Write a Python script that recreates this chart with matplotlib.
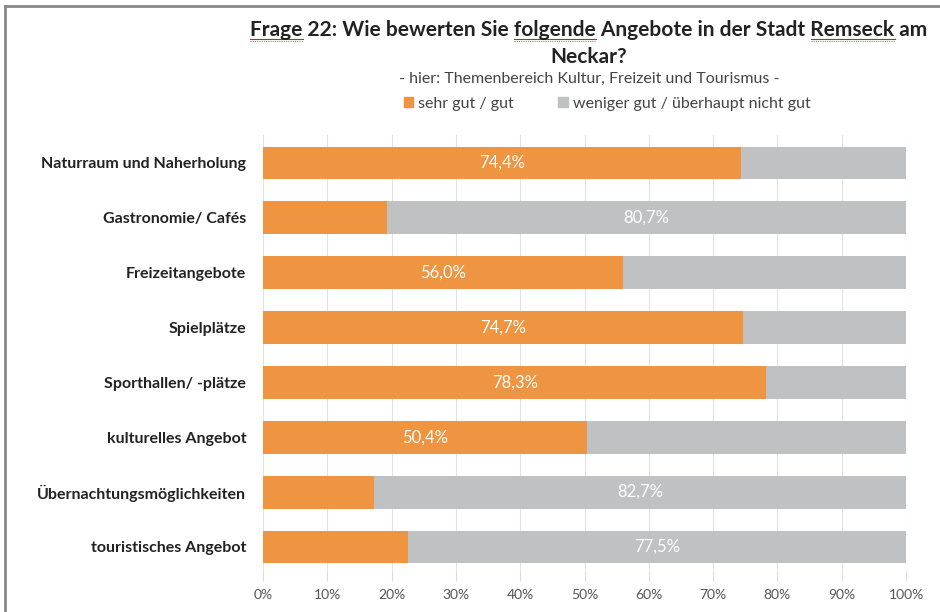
import matplotlib
matplotlib.use("Agg")
import matplotlib.pyplot as plt
from matplotlib.patches import Patch
from matplotlib.lines import Line2D

categories = ["Naturraum und Naherholung", "Gastronomie/ Cafés", "Freizeitangebote",
              "Spielplätze", "Sporthallen/ -plätze", "kulturelles Angebot",
              "Übernachtungsmöglichkeiten", "touristisches Angebot"]
good = [74.4, 19.3, 56.0, 74.7, 78.3, 50.4, 17.3, 22.5]
bad = [25.6, 80.7, 44.0, 25.3, 21.7, 49.6, 82.7, 77.5]
series_names = ["sehr gut / gut", "weniger gut / überhaupt nicht gut"]
xticks = [0, 10, 20, 30, 40, 50, 60, 70, 80, 90, 100]

ORANGE = "#EF9440"
GREY = "#BFC1C3"
FONT = ["Lato", "DejaVu Sans"]
plt.rcParams['font.family'] = FONT

fig = plt.figure(figsize=(9.4, 6.12), dpi=100)
ax = fig.add_axes([263/940, 1-570/612, (906-263)/940, (570-135)/612])

y = list(range(len(categories)))
ax.barh(y, good, height=0.6, color=ORANGE, zorder=3)
ax.barh(y, bad, left=good, height=0.6, color=GREY, zorder=3)

for i in y:
    if good[i] >= bad[i]:
        ax.text(good[i]/2, i, f"{good[i]:.1f}%".replace(".", ","), color="white",
                ha="center", va="center", fontsize=12, zorder=4)
    else:
        ax.text(good[i] + bad[i]/2, i, f"{bad[i]:.1f}%".replace(".", ","), color="white",
                ha="center", va="center", fontsize=12, zorder=4)

ax.set_xlim(0, 100)
ax.set_ylim(7.42, -0.51)
ax.set_xticks(xticks)
ax.set_xticklabels([f"{t}%" for t in xticks], color="#555555", fontsize=10)
ax.set_yticks(y)
ax.set_yticklabels(categories, fontsize=11.5, fontweight="bold", color="#222222")
ax.tick_params(axis="y", length=0, pad=12)
ax.tick_params(axis="x", length=8, color="#dddddd", pad=6)
ax.grid(axis="x", color="#e2e2e2", linewidth=0.8, zorder=0)
for s in ax.spines.values():
    s.set_visible(False)

# border lines (top and left)
fig.add_artist(Line2D([5/940, 1], [1-6/612, 1-6/612], color="#888888", lw=2))
fig.add_artist(Line2D([5/940, 5/940], [0, 1-6/612], color="#888888", lw=2))

# title
TS = 15
line1 = "Frage 22: Wie bewerten Sie folgende Angebote in der Stadt Remseck am"
cx = 589/940
t1 = fig.text(cx, 1-30/612, line1, ha="center", va="center", fontsize=TS,
              fontweight="bold", color="#222222")
fig.text(cx, 1-57/612, "Neckar?", ha="center", va="center", fontsize=TS,
         fontweight="bold", color="#222222")
fig.text(cx, 1-79/612, "- hier: Themenbereich Kultur, Freizeit und Tourismus -",
         ha="center", va="center", fontsize=11.5, color="#444444")

# underline marks under selected words
fig.canvas.draw()
r = fig.canvas.get_renderer()
bb = t1.get_window_extent(r)
def width_of(s):
    tt = fig.text(0, 0, s, fontsize=TS, fontweight="bold")
    w = tt.get_window_extent(r).width
    tt.remove()
    return w
for word in ["Frage", "folgende", "Remseck"]:
    idx = line1.index(word)
    x0 = bb.x0 + width_of(line1[:idx]) if idx > 0 else bb.x0
    x1 = bb.x0 + width_of(line1[:idx + len(word)])
    yy = bb.y0 + 1
    fig.add_artist(Line2D([x0/940, x1/940], [yy/612, yy/612], color="#555555", lw=0.8))
    fig.add_artist(Line2D([x0/940, x1/940], [(yy-1.5)/612, (yy-1.5)/612],
                          color="#e07070", lw=0.8, ls=(0, (1, 1))))

handles = [Patch(color=ORANGE), Patch(color=GREY)]
fig.legend(handles, series_names, loc="center", bbox_to_anchor=(607/940, 1-104/612), ncol=2,
           frameon=False, fontsize=11.5, handlelength=0.6, handleheight=0.6,
           handletextpad=0.3, columnspacing=2.8, labelcolor="#444444")

fig.savefig("out.png", dpi=100, facecolor="white")
